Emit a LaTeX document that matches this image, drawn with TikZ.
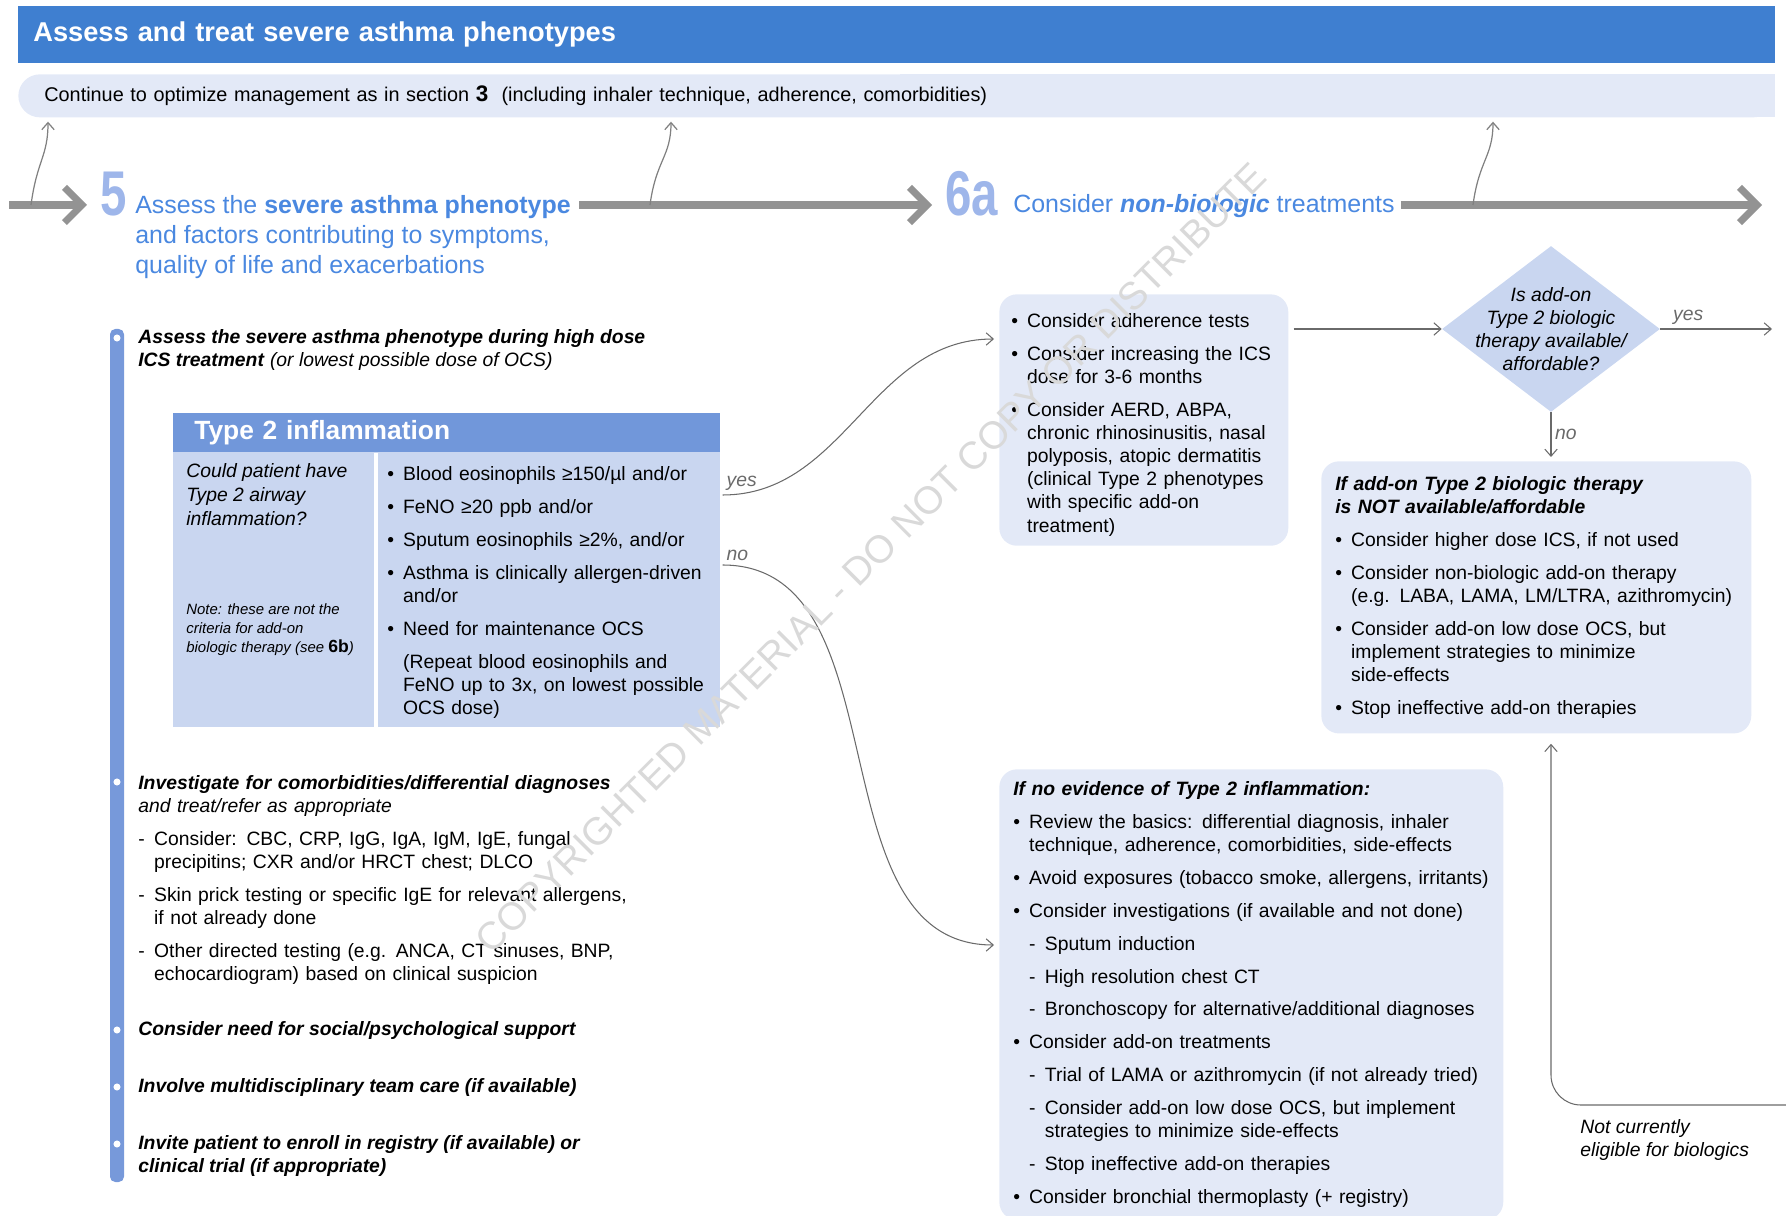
\documentclass[tikz,border=0pt]{standalone}
\usepackage{fontspec}
\setmainfont{Liberation Sans}
\usetikzlibrary{arrows.meta,shapes.geometric,calc}

\definecolor{titleblue}{HTML}{3F7FD0}
\definecolor{lav}{HTML}{E3E9F7}
\definecolor{hdblue}{HTML}{7197DA}
\definecolor{cellblue}{HTML}{C9D6F0}
\definecolor{barblue}{HTML}{7799DA}
\definecolor{headblue}{HTML}{4A88E0}
\definecolor{numblue}{HTML}{9EB6EA}
\definecolor{biggrey}{HTML}{939393}
\definecolor{conngrey}{HTML}{6A6A6A}

\setlength{\parindent}{0pt}

\newcommand{\bul}[1]{\par\hangindent=9pt\hangafter=1\noindent\makebox[9pt][l]{\textbullet}#1}
\newcommand{\dsh}[1]{\par\hangindent=18pt\hangafter=1\noindent\hspace*{9pt}\makebox[9pt][l]{-}#1}
\newcommand{\ldsh}[1]{\par\hangindent=9pt\hangafter=1\noindent\makebox[9pt][l]{-}#1}
\newcommand{\indpar}[1]{\par\hangindent=9pt\hangafter=0\noindent#1}

\begin{document}
\begin{tikzpicture}[x=0.02cm, y=-0.02cm, >={Straight Barb[length=4pt,width=7pt]},
body/.style={font=\fontsize{11}{13.2}\selectfont, execute at begin node={\setlength{\parskip}{5.5pt}}},
txt/.style={body, inner sep=0pt, anchor=north west, align=left},
infobox/.style={body, rectangle, fill=lav, rounded corners=10pt, anchor=north west, inner xsep=0.28cm, inner ysep=7pt, align=left},
bigline/.style={biggrey, line width=4pt, -{Straight Barb[length=10pt,width=20pt]}},
conn/.style={conngrey, line width=0.6pt, ->},
uparr/.style={gray, line width=0.7pt, ->},
num/.style={numblue, inner sep=0pt, anchor=base west, font=\fontsize{36}{36}\selectfont\bfseries},
head/.style={headblue, inner sep=0pt, font=\fontsize{14.2}{17}\selectfont, align=left},
lbl/.style={inner sep=2pt, font=\fontsize{11}{13}\selectfont\itshape}]

\useasboundingbox (0,0) rectangle (1786,1216);

% title and top bar
\node[fill=titleblue, text=white, anchor=north west, minimum width=35.14cm, minimum height=1.14cm, text width=34.54cm, inner xsep=0.3cm, align=left, font=\fontsize{15.5}{18}\selectfont\bfseries] (title) at (18,6) {Assess and treat severe asthma phenotypes};
\fill[lav] (900,74) rectangle (1775,117);
\node[body, fill=lav, rounded corners=0.43cm, anchor=north west, minimum width=35.14cm, minimum height=0.86cm, text width=34.1cm, inner xsep=0.52cm, align=left, font=\fontsize{11.3}{13}\selectfont] (cont) at (18,74) {Continue to optimize management as in section {\fontsize{12.8}{13}\selectfont\bfseries 3}\ \ (including inhaler technique, adherence, comorbidities)};

% main arrow with steps 5 and 6a
\coordinate (in5) at (9,205);
\coordinate (out6) at (1762,205);
\node[num] (n5) at (100,216) {\scalebox{0.75}[1]{5}};
\node[head, anchor=north west] (h5) at (135,195) {Assess the \textbf{severe asthma phenotype}\\and factors contributing to symptoms,\\quality of life and exacerbations};
\node[num] (n6) at (945,216) {\scalebox{0.75}[1]{6a}};
\node[head, anchor=base west] (h6) at (1013,213) {Consider \textbf{\textit{non-biologic}} treatments};
\draw[bigline] (in5) -- ($(n5.west |- in5)+(-13,0)$);
\draw[bigline] ($(h5.east |- in5)+(8,0)$) -- ($(n6.west |- in5)+(-13,0)$);
\draw[bigline] ($(h6.east |- in5)+(6,0)$) -- (out6);

\coordinate (up1) at (31,205);
\coordinate (up2) at (650,205);
\coordinate (up3) at (1473,205);
\draw[uparr] (up1) .. controls +(6,-45) and +(0,35) .. ($(up1 |- cont.south)+(17,4)$);
\draw[uparr] (up2) .. controls +(6,-45) and +(0,35) .. ($(up2 |- cont.south)+(21,4)$);
\draw[uparr] (up3) .. controls +(6,-45) and +(0,35) .. ($(up3 |- cont.south)+(20,4)$);

% left column
\fill[barblue, rounded corners=3pt] (110,329) rectangle (124,1182);
\foreach \yy in {338,782,1030,1087,1144} \fill[white] (117,\yy) circle (2pt);

\node[txt] (lc1) at (138,329) {\textbf{\textit{Assess the severe asthma phenotype during high dose}}\\\textbf{\textit{ICS treatment}} \textit{(or lowest possible dose of OCS)}};

\node[fill=cellblue, anchor=north west, minimum width=10.94cm, minimum height=6.28cm, inner sep=0pt] (t2) at (173,413) {};
\node[fill=hdblue, text=white, anchor=north west, minimum width=10.94cm, minimum height=0.78cm, text width=10.1cm, inner xsep=0.42cm, align=left, font=\fontsize{15}{16}\selectfont\bfseries] (t2hd) at (t2.north west) {Type 2 inflammation};
\draw[white, line width=2pt] ($(t2hd.south west)+(203,0)$) -- ($(t2.south west)+(203,0)$);
\node[txt, font=\fontsize{11}{13.7}\selectfont\itshape] (t2q) at (186,463) {Could patient have\\Type 2 airway\\inflammation?};
\node[txt, font=\fontsize{8.5}{10.8}\selectfont\itshape] (t2note) at (186,603) {Note: these are not the\\criteria for add-on\\biologic therapy (see {\fontsize{10}{10.8}\selectfont\upshape\bfseries 6b})};
\node[txt, text width=6.6cm] (t2crit) at (387,457) {\vspace{-5.5pt}\bul{Blood eosinophils ≥150/µl and/or}\bul{FeNO ≥20 ppb and/or}\bul{Sputum eosinophils ≥2\%, and/or}\bul{Asthma is clinically allergen-driven\newline and/or}\bul{Need for maintenance OCS}\indpar{(Repeat blood eosinophils and\newline FeNO up to 3x, on lowest possible\newline OCS dose)}\par};

\node[txt, text width=10cm] (lc2) at (138,775) {\textbf{\textit{Investigate for comorbidities/differential diagnoses}}\newline\textit{and treat/refer as appropriate}\ldsh{Consider: CBC, CRP, IgG, IgA, IgM, IgE, fungal\newline precipitins; CXR and/or HRCT chest; DLCO}\ldsh{Skin prick testing or specific IgE for relevant allergens,\newline if not already done}\ldsh{Other directed testing (e.g. ANCA, CT sinuses, BNP,\newline echocardiogram) based on clinical suspicion}\par};
\node[txt] (lc3) at (138,1021) {\textbf{\textit{Consider need for social/psychological support}}};
\node[txt] (lc4) at (138,1078) {\textbf{\textit{Involve multidisciplinary team care (if available)}}};
\node[txt] (lc5) at (138,1135) {\textbf{\textit{Invite patient to enroll in registry (if available) or}}\\\textbf{\textit{clinical trial (if appropriate)}}};

% 6a boxes
\node[infobox, inner ysep=5.5pt, inner xsep=0.24cm, text width=5.3cm] (adh) at (999,294) {\vspace{-5.5pt}\bul{Consider adherence tests}\bul{Consider increasing the ICS\newline dose for 3-6 months}\bul{Consider AERD, ABPA,\newline chronic rhinosinusitis, nasal\newline polyposis, atopic dermatitis\newline (clinical Type 2 phenotypes\newline with specific add-on\newline treatment)}\par\vspace{5.5pt}};

\node[infobox, text width=9.52cm] (noev) at (999,769) {\textbf{\textit{If no evidence of Type 2 inflammation:}}\bul{Review the basics: differential diagnosis, inhaler\newline technique, adherence, comorbidities, side-effects}\bul{Avoid exposures (tobacco smoke, allergens, irritants)}\bul{Consider investigations (if available and not done)}\dsh{Sputum induction}\dsh{High resolution chest CT}\dsh{Bronchoscopy for alternative/additional diagnoses}\bul{Consider add-on treatments}\dsh{Trial of LAMA or azithromycin (if not already tried)}\dsh{Consider add-on low dose OCS, but implement\newline strategies to minimize side-effects}\dsh{Stop ineffective add-on therapies}\bul{Consider bronchial thermoplasty (+ registry)}\par};

\node[diamond, fill=cellblue, minimum width=4.36cm, minimum height=3.32cm, inner sep=0pt] (dia) at (1551,329) {};
\node[body, align=center, font=\fontsize{11}{13}\selectfont\itshape] (diaq) at (dia.center) {Is add-on\\Type 2 biologic\\therapy available/\\affordable?};

\node[infobox, inner ysep=8.5pt, text width=8.04cm] (notav) at (1321,461) {\textbf{\textit{If add-on Type 2 biologic therapy\newline is NOT available/affordable}}\bul{Consider higher dose ICS, if not used}\bul{Consider non-biologic add-on therapy\newline (e.g. LABA, LAMA, LM/LTRA, azithromycin)}\bul{Consider add-on low dose OCS, but\newline implement strategies to minimize\newline side-effects}\bul{Stop ineffective add-on therapies}\par};

% connectors
\coordinate (t2yes) at ($(t2.north east)+(2,82)$);
\coordinate (t2no) at ($(t2.north east)+(2,152)$);
\coordinate (yesout) at (1772,329);
\coordinate (ncin) at (1786,1105);
\draw[conn] (t2yes) to[out=0,in=180] node[lbl, pos=0, above right] (yes1) {yes} ($(adh.north west)+(-5,45)$);
\draw[conn] (t2no) to[out=0,in=180] node[lbl, pos=0, above right] (no1) {no} ($(noev.north west)+(-5,176)$);
\draw[conn] ($(adh.east |- dia.west)+(5,0)$) -- (dia.west);
\draw[conn] (dia.east) -- node[lbl, pos=0.25, above] (yes2) {yes} (yesout);
\draw[conn] (dia.south) -- node[lbl, right] (no2) {no} ($(dia.south |- notav.north)+(0,-4)$);
\draw[conn, rounded corners=17pt] (ncin) -| ($(dia.south |- notav.south)+(0,10)$);
\node[txt, font=\fontsize{11}{13.2}\selectfont\itshape] (nclbl) at (1580,1119) {Not currently\\eligible for biologics};

% watermark
\node[gray!30, rotate=45, font=\fontsize{22}{22}\selectfont] (wm) at (871,558) {COPYRIGHTED MATERIAL - DO NOT COPY OR DISTRIBUTE};

\end{tikzpicture}
\end{document}
